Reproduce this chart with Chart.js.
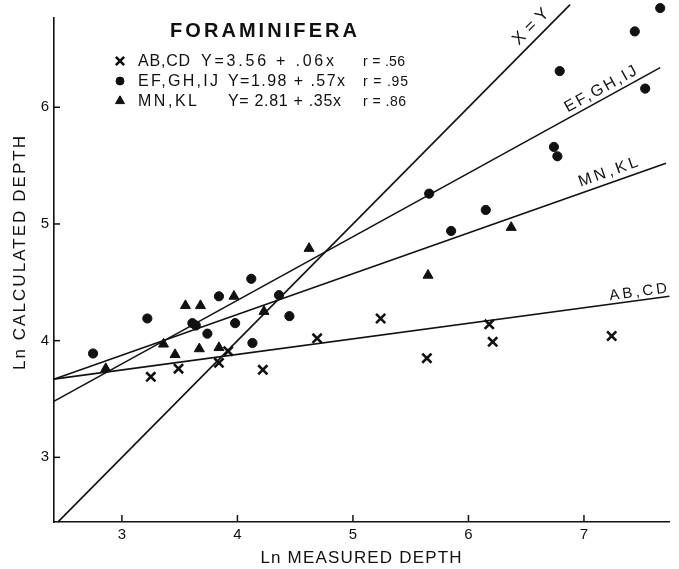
<!DOCTYPE html>
<html><head><meta charset="utf-8">
<script src="https://cdn.jsdelivr.net/npm/chart.js@4"></script>
<style>html,body{margin:0;padding:0;background:#fff}#wrap{width:679px;height:569px}</style>
</head><body><div id="wrap"><canvas id="c" width="679" height="569"></canvas></div>
<script>
// ---- data ----
const abcdX = [3.25, 3.49, 3.84, 3.92, 4.22, 4.69, 5.24, 5.64, 6.18, 6.21, 7.24];
const abcdY = [3.69, 3.76, 3.81, 3.91, 3.75, 4.02, 4.19, 3.85, 4.14, 3.99, 4.04];
const efX = [2.75, 3.22, 3.61, 3.64, 3.74, 3.84, 3.98, 4.12, 4.13, 4.36, 4.45, 5.66, 5.85, 6.15, 6.74, 6.77, 6.79, 7.44, 7.53, 7.66];
const efY = [3.89, 4.19, 4.15, 4.13, 4.06, 4.38, 4.15, 4.53, 3.98, 4.39, 4.21, 5.26, 4.94, 5.12, 5.66, 5.58, 6.31, 6.65, 6.16, 6.85];
const mnX = [2.86, 3.36, 3.46, 3.55, 3.68, 3.67, 3.84, 3.97, 4.23, 4.62, 5.65, 6.37];
const mnY = [3.76, 3.97, 3.88, 4.30, 4.30, 3.93, 3.94, 4.38, 4.25, 4.79, 4.56, 4.97];

// fitted lines: start and end (as drawn)
const lineNames  = ['X=Y', 'EF,GH,IJ', 'MN,KL', 'AB,CD'];
const lineStartX = [2.445, 2.41, 2.41, 2.41];
const lineStartY = [2.445, 3.48, 3.67, 3.67];
const lineEndX   = [6.88, 7.66, 7.71, 7.74];
const lineEndY   = [6.88, 6.34, 5.52, 4.38];
// where each line's name sits (data coords)
const lineLabelX = [6.54, 7.145, 7.21, 7.47];
const lineLabelY = [6.69, 6.154, 5.443, 4.415];

const xTicks = [3, 4, 5, 6, 7];
const yTicks = [3, 4, 5, 6];

const legendNames = ['AB,CD', 'EF,GH,IJ', 'MN,KL'];
const legendEqs   = ['Y=3.56 + .06x', 'Y=1.98 + .57x', 'Y= 2.81 + .35x'];
const legendRs    = ['r = .56', 'r = .95', 'r = .86'];
const chartTitle  = 'FORAMINIFERA';
const xTitle = 'Ln MEASURED DEPTH';
const yTitle = 'Ln CALCULATED DEPTH';

const INK = '#111';
const FONT = '"Liberation Sans", Arial, sans-serif';

const pts = (xs, ys) => xs.map((v, i) => ({x: v, y: ys[i]}));

const markerStyles = [
  {pointStyle: 'crossRot', radius: 6.5, borderWidth: 2.6},
  {pointStyle: 'circle', radius: 4.6, borderWidth: 1},
  {pointStyle: 'triangle', radius: 5.8, borderWidth: 1}
];

const datasets = [];
lineNames.forEach((n, i) => {
  datasets.push({
    type: 'line', label: n,
    data: [{x: lineStartX[i], y: lineStartY[i]}, {x: lineEndX[i], y: lineEndY[i]}],
    borderColor: INK, borderWidth: 1.6, pointRadius: 0, fill: false, clip: false
  });
});
[[abcdX, abcdY], [efX, efY], [mnX, mnY]].forEach((d, i) => {
  const s = markerStyles[i];
  datasets.push({
    type: 'scatter', label: legendNames[i], data: pts(d[0], d[1]),
    pointStyle: s.pointStyle, pointRadius: s.radius, pointBorderWidth: s.borderWidth,
    backgroundColor: INK, borderColor: INK, clip: false
  });
});

function fitText(ctx, str, x, y, width, align) {
  ctx.letterSpacing = '0px';
  const w0 = ctx.measureText(str).width;
  const n = Math.max(str.length - 1, 1);
  const ls = (width - w0) / n;
  ctx.letterSpacing = ls.toFixed(2) + 'px';
  ctx.textAlign = 'left';
  ctx.fillText(str, align === 'center' ? x - width / 2 : x, y);
  ctx.letterSpacing = '0px';
}

// let marks that sit just above the axis top still be drawn
const allowOverflow = {
  id: 'allowOverflow',
  beforeDatasetsDraw(chart) { chart._savedArea = chart.chartArea; chart.chartArea = Object.assign({}, chart.chartArea, {top: chart.chartArea.top - 20}); },
  afterDatasetsDraw(chart) { chart.chartArea = chart._savedArea; }
};

const decor = {
  id: 'decor',
  afterDraw(chart) {
    const {ctx, chartArea: a, scales: {x, y}} = chart;
    ctx.save();
    // inner tick marks
    ctx.strokeStyle = INK; ctx.lineWidth = 1.5;
    xTicks.forEach(v => { const p = x.getPixelForValue(v); ctx.beginPath(); ctx.moveTo(p, a.bottom); ctx.lineTo(p, a.bottom - 7); ctx.stroke(); });
    yTicks.forEach(v => { const p = y.getPixelForValue(v); ctx.beginPath(); ctx.moveTo(a.left, p); ctx.lineTo(a.left + 6, p); ctx.stroke(); });

    ctx.fillStyle = INK;
    ctx.textBaseline = 'alphabetic';
    // title
    ctx.font = 'bold 20px ' + FONT;
    fitText(ctx, chartTitle, 170, 37, 187);
    // legend rows
    const rowBase = [66, 86, 106];
    const eqX = [201, 228, 228];
    const eqW = [133, 117, 113];
    const nameW = [52, 80, 59];
    const rW = [42, 45, 43];
    for (let i = 0; i < 3; i++) {
      const s = markerStyles[i];
      ctx.lineWidth = s.borderWidth;
      Chart.helpers.drawPoint(ctx, {pointStyle: s.pointStyle, radius: s.radius - 0.6, borderWidth: s.borderWidth, rotation: 0},
        120, rowBase[i] - 5);
      ctx.lineWidth = 1.5;
      ctx.font = '16px ' + FONT;
      fitText(ctx, legendNames[i], 138, rowBase[i], nameW[i]);
      fitText(ctx, legendEqs[i], eqX[i], rowBase[i], eqW[i]);
      ctx.font = '14px ' + FONT;
      fitText(ctx, legendRs[i], 363, rowBase[i], rW[i]);
    }
    // line names along lines
    const labelW = [44, 80, 62, 58];
    const labelSize = [17, 16, 16, 15];
    ctx.textBaseline = 'middle';
    lineNames.forEach((n, i) => {
      ctx.font = labelSize[i] + 'px ' + FONT;
      const x0 = x.getPixelForValue(lineStartX[i]), y0 = y.getPixelForValue(lineStartY[i]);
      const x1 = x.getPixelForValue(lineEndX[i]), y1 = y.getPixelForValue(lineEndY[i]);
      const ang = Math.atan2(y1 - y0, x1 - x0);
      const cx = x.getPixelForValue(lineLabelX[i]), cy = y.getPixelForValue(lineLabelY[i]);
      ctx.save(); ctx.translate(cx, cy); ctx.rotate(ang);
      fitText(ctx, n, 0, 0, labelW[i], 'center');
      ctx.restore();
    });
    // axis titles
    ctx.font = '17px ' + FONT;
    ctx.textBaseline = 'middle';
    fitText(ctx, xTitle, (a.left + a.right) / 2 - 1, 558, 201, 'center');
    ctx.save(); ctx.translate(20, 253); ctx.rotate(-Math.PI / 2);
    fitText(ctx, yTitle, 0, 0, 234, 'center');
    ctx.restore();
    ctx.restore();
  }
};

new Chart(document.getElementById('c'), {
  type: 'scatter',
  data: {datasets},
  options: {
    responsive: false, animation: false, devicePixelRatio: 1,
    layout: {padding: {left: 0, right: 9, top: 18, bottom: 0}},
    plugins: {legend: {display: false}, tooltip: {enabled: false}},
    scales: {
      x: {
        type: 'linear', min: 2.412, max: 7.744,
        afterBuildTicks: s => { s.ticks = xTicks.map(v => ({value: v})); },
        afterFit: s => { s.height = 47; },
        grid: {display: false, drawTicks: false},
        border: {display: true, color: INK, width: 1.6},
        ticks: {color: INK, font: {family: FONT, size: 15}, padding: 4, maxRotation: 0, callback: v => String(v)}
      },
      y: {
        type: 'linear', min: 2.446, max: 6.765,
        afterBuildTicks: s => { s.ticks = yTicks.map(v => ({value: v})); },
        afterFit: s => { s.width = 54; },
        grid: {display: false, drawTicks: false},
        border: {display: true, color: INK, width: 1.6},
        ticks: {color: INK, font: {family: FONT, size: 15}, padding: 5, callback: v => String(v)}
      }
    }
  },
  plugins: [allowOverflow, decor]
});
</script></body></html>
